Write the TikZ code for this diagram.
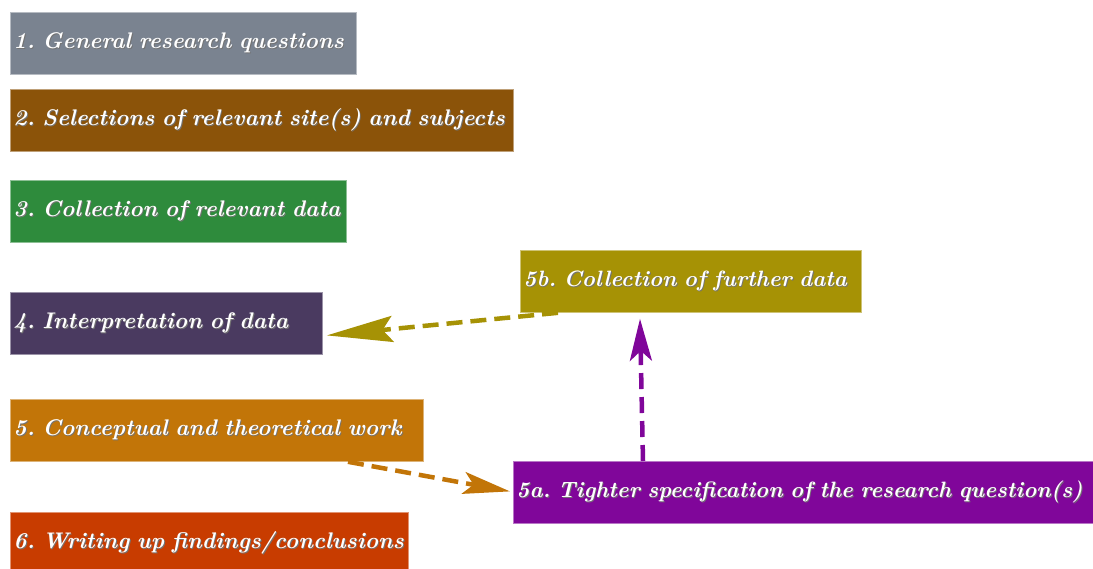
\documentclass[tikz,border=0pt]{standalone}
\usetikzlibrary{arrows.meta}

\definecolor{slate}{HTML}{7A8390}
\definecolor{umber}{HTML}{8B5309}
\definecolor{leaf}{HTML}{2E8B3C}
\definecolor{plum}{HTML}{4A3A60}
\definecolor{amber}{HTML}{C27508}
\definecolor{rust}{HTML}{C83C00}
\definecolor{olivegold}{HTML}{A69205}
\definecolor{violet}{HTML}{80069A}

% one-line white label with a soft dark drop shadow
\newcommand\shadowtext[1]{\mbox{\makebox[0pt][l]{\hspace{0.9pt}\raisebox{-0.9pt}{\textcolor{black!55}{#1}}}#1}}

\frenchspacing
\begin{document}
\begin{tikzpicture}[x=1pt,y=-1pt,
  stage/.style={anchor=north west, fill=#1, draw=#1!55!white, line width=0.8pt,
    minimum height=62pt, inner xsep=3pt, inner ysep=0pt, align=left, text=white,
    font=\fontsize{22.6}{26}\selectfont\bfseries\itshape},
  loopstage/.style={stage=#1, font=\fontsize{22.2}{26}\selectfont\bfseries\itshape},
  flow/.style={draw=#1, line width=4.5pt, dash pattern=on 16pt off 8pt},
  tip/.style n args={2}{-{Stealth[length=#1, width=#2, inset=10pt]}}]

\clip (0,0) rectangle (1093,568);

% main sequence of stages
\node[stage=slate,     text width=340pt] (b1)  at (10,12)  {\shadowtext{1. General research questions}};
\node[stage=umber,     text width=497pt] (b2)  at (10,89)  {\shadowtext{2. Selections of relevant site(s) and subjects}};
\node[stage=leaf,      text width=330pt] (b3)  at (10,180) {\shadowtext{3. Collection of relevant data}};
\node[stage=plum,      text width=306pt] (b4)  at (10,292) {\shadowtext{4. Interpretation of data}};
\node[stage=amber,     text width=407pt] (b5)  at (10,399) {\shadowtext{5. Conceptual and theoretical work}};
\node[stage=rust,      text width=392pt] (b6)  at (10,512) {\shadowtext{6. Writing up findings/conclusions}};

% feedback loop
\node[loopstage=olivegold, text width=335pt] (b5b) at (520,250) {\shadowtext{5b. Collection of further data}};
\node[loopstage=violet,    text width=574pt] (b5a) at (513,461) {\shadowtext{5a. Tighter specification of the research question(s)}};

\draw[flow=amber, tip={47pt}{22pt}]
  ([xshift=338pt]b5.south west) -- ([xshift=-3pt,yshift=1pt]b5a.west);
\draw[flow=violet, tip={42pt}{22pt}]
  ([xshift=130pt]b5a.north west) -- ([xshift=120pt,yshift=-6pt]b5b.south west);
\draw[flow=olivegold, tip={66pt}{26pt}]
  ([xshift=38pt]b5b.south west) -- ([xshift=4pt,yshift=-12pt]b4.east);
\end{tikzpicture}
\end{document}
